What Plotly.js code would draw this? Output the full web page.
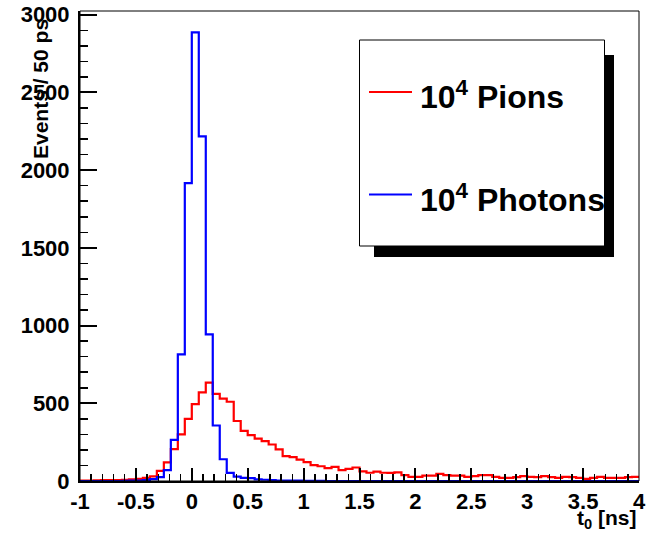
<!DOCTYPE html>
<html>
<head>
<meta charset="utf-8">
<script src="https://cdn.plot.ly/plotly-3.0.1.min.js"></script>
<style>html,body{margin:0;padding:0;background:#fff;}#chart{width:656px;height:533px;}</style>
</head>
<body>
<div id="chart"></div>
<script>
// Histogram binning (t0 in ns)
const xMin = -1;
const xMax = 4;
const nBins = 80;

// Bin contents, 80 bins from -1 to 4 ns
const pions = [2,3,4,5,6,5,8,10,14,20,
               30,65,120,205,300,400,495,570,633,560,
               530,510,386,322,295,272,256,235,203,160,
               153,138,121,102,95,83,91,70,78,87,
               62,53,60,53,52,56,38,27,27,35,
               35,46,38,35,35,27,31,38,38,27,
               20,20,25,31,27,25,31,25,20,27,
               25,20,14,20,27,20,20,20,25,27];
const photons = [0,0,0,0,0,0,1,2,3,6,
                 12,25,70,264,815,1916,2886,2217,944,357,
                 140,52,28,20,18,10,8,5,3,3,
                 2,2,1,1,1,0,0,0,0,0,
                 0,0,0,0,0,0,0,0,0,0,
                 0,0,0,0,0,0,0,0,0,0,
                 0,0,0,0,0,0,0,0,0,0,
                 0,0,0,0,0,0,0,0,0,0];

const xTickVals = [-1, -0.5, 0, 0.5, 1, 1.5, 2, 2.5, 3, 3.5, 4];
const xTickText = ["-1", "-0.5", "0", "0.5", "1", "1.5", "2", "2.5", "3", "3.5", "4"];
const yTickVals = [0, 500, 1000, 1500, 2000, 2500, 3000];
const yTickText = ["0", "500", "1000", "1500", "2000", "2500", "3000"];

const seriesNames = ["10<sup>4</sup> Pions", "10<sup>4</sup> Photons"];
const yTitle = "Events / 50 ps";
const xTitle = "t<sub>0</sub> [ns]";

function stepTrace(vals, color, name) {
  const w = (xMax - xMin) / nBins;
  const xs = [], ys = [];
  for (let i = 0; i <= vals.length; i++) {
    xs.push(xMin + i * w);
    ys.push(i < vals.length ? vals[i] : vals[vals.length - 1]);
  }
  return {x: xs, y: ys, type: 'scatter', mode: 'lines', name: name,
          line: {shape: 'hv', color: color, width: 2.2}, showlegend: false,
          hoverinfo: 'skip'};
}

const FONT = "Liberation Sans, Arial, Helvetica, sans-serif";
const L = 80, R = 17, T = 11, B = 52;
const W = 656, H = 533;
const pw = W - L - R, ph = H - T - B;
const px = v => (v - L) / pw;
const py = v => (H - B - v) / ph;

const data = [stepTrace(pions, '#ff0000', 'Pions'), stepTrace(photons, '#0000ff', 'Photons')];

const layout = {
  width: W, height: H,
  margin: {l: L, r: R, t: T, b: B, pad: 0},
  paper_bgcolor: '#fff', plot_bgcolor: '#fff',
  showlegend: false,
  font: {family: FONT, color: '#000'},
  xaxis: {
    range: [xMin, xMax], showgrid: false, zeroline: false,
    showline: true, linecolor: '#000', linewidth: 2,
    ticks: 'inside', tickmode: 'array', tickvals: xTickVals, ticktext: xTickText,
    ticklen: 13, tickwidth: 2, tickcolor: '#000',
    minor: {ticks: 'inside', tickmode: 'linear', tick0: 0, dtick: 0.1, ticklen: 7, tickwidth: 1.5, tickcolor: '#000', showgrid: false},
    tickfont: {family: FONT, size: 22, weight: 'bold', color: '#000'},
    ticklabelstandoff: 0
  },
  yaxis: {
    range: [0, 3024], showgrid: false, zeroline: false,
    showline: true, linecolor: '#000', linewidth: 2,
    ticks: 'inside', tickmode: 'array', tickvals: yTickVals, ticktext: yTickText,
    ticklen: 17, tickwidth: 2, tickcolor: '#000',
    minor: {ticks: 'inside', tickmode: 'linear', tick0: 0, dtick: 100, ticklen: 8, tickwidth: 1.5, tickcolor: '#000', showgrid: false},
    tickfont: {family: FONT, size: 22, weight: 'bold', color: '#000'},
    ticklabelstandoff: 4
  },
  shapes: [
    {type: 'rect', xref: 'paper', yref: 'paper', x0: 0, x1: 1, y0: 0, y1: 1,
     line: {color: '#000', width: 1}, fillcolor: 'rgba(0,0,0,0)', layer: 'above'},
    // legend shadow
    {type: 'rect', xref: 'paper', yref: 'paper', x0: px(374), x1: px(614), y0: py(257), y1: py(55),
     line: {width: 0}, fillcolor: '#000', layer: 'above'},
    // legend box
    {type: 'rect', xref: 'paper', yref: 'paper', x0: px(359.5), x1: px(604.5), y0: py(246), y1: py(40),
     line: {color: '#000', width: 1}, fillcolor: '#fff', layer: 'above'},
    {type: 'line', xref: 'paper', yref: 'paper', x0: px(369), x1: px(412), y0: py(92), y1: py(92),
     line: {color: '#ff0000', width: 2}, layer: 'above'},
    {type: 'line', xref: 'paper', yref: 'paper', x0: px(369), x1: px(412), y0: py(194.5), y1: py(194.5),
     line: {color: '#0000ff', width: 2}, layer: 'above'}
  ],
  annotations: [
    {text: seriesNames[0], xref: 'paper', yref: 'paper', x: px(418), y: py(95), xanchor: 'left', yanchor: 'middle',
     showarrow: false, font: {family: FONT, size: 32, weight: 'bold', color: '#000'}},
    {text: seriesNames[1], xref: 'paper', yref: 'paper', x: px(418), y: py(198), xanchor: 'left', yanchor: 'middle',
     showarrow: false, font: {family: FONT, size: 32, weight: 'bold', color: '#000'}},
    {text: yTitle, xref: 'paper', yref: 'paper', x: px(40), y: py(89), xanchor: 'center', yanchor: 'middle',
     textangle: -90, showarrow: false, font: {family: FONT, size: 21, weight: 'bold', color: '#000'}},
    {text: xTitle, xref: 'paper', yref: 'paper', x: px(639), y: py(519), xanchor: 'right', yanchor: 'middle',
     showarrow: false, font: {family: FONT, size: 21, weight: 'bold', color: '#000'}}
  ]
};

Plotly.newPlot('chart', data, layout, {displayModeBar: false, staticPlot: true});
</script>
</body>
</html>
